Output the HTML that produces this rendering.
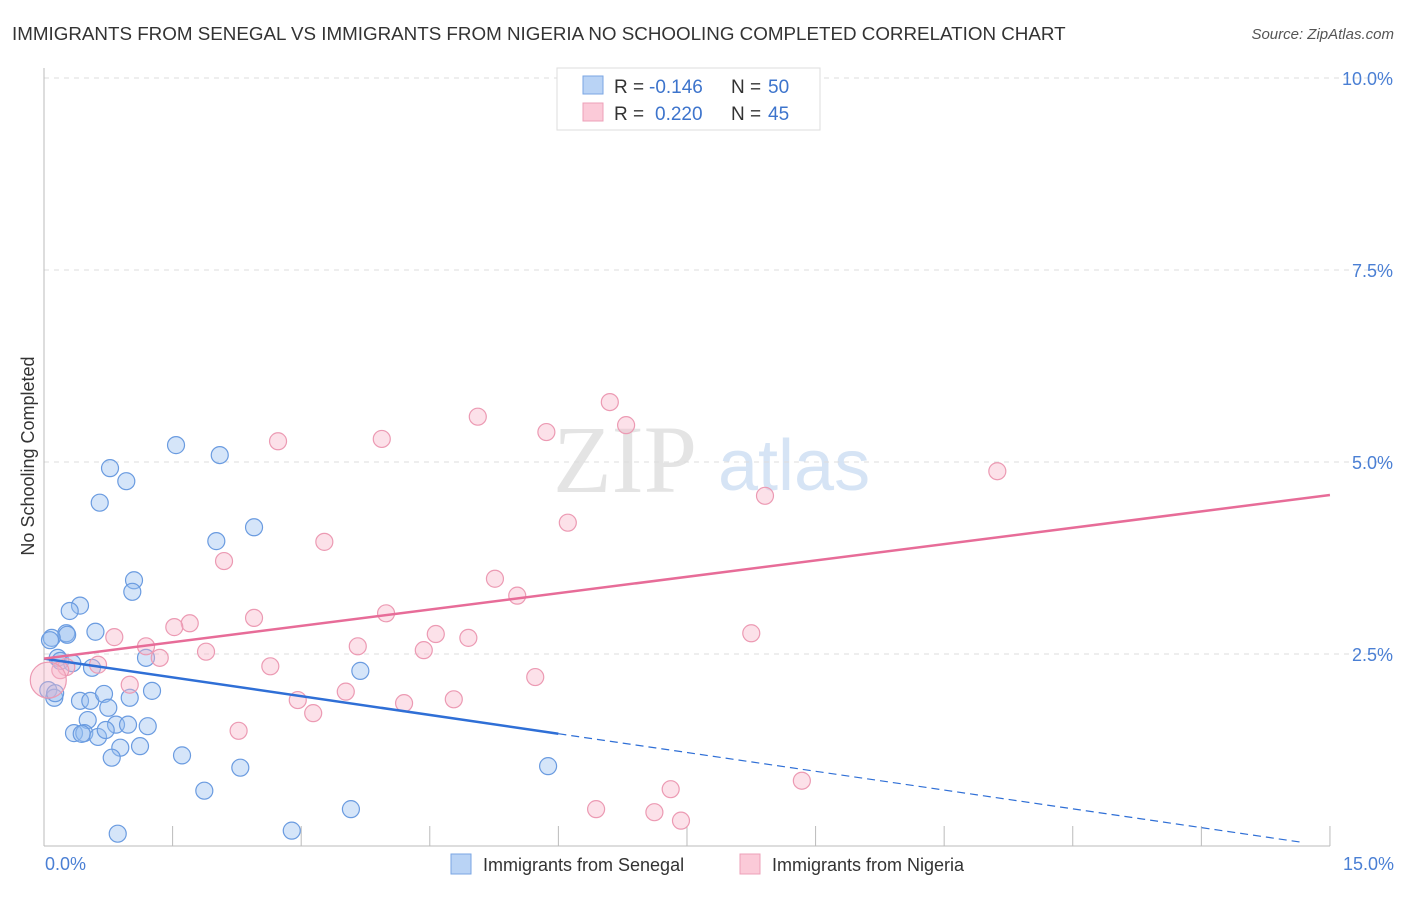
<!DOCTYPE html>
<html><head><meta charset="utf-8"><style>
body{margin:0;background:#fff;font-family:"Liberation Sans",sans-serif}
svg text{font-family:"Liberation Sans",sans-serif}
</style></head><body>
<svg width="1406" height="892">
<text x="12" y="40" font-size="18.8" fill="#333">IMMIGRANTS FROM SENEGAL VS IMMIGRANTS FROM NIGERIA NO SCHOOLING COMPLETED CORRELATION CHART</text>
<text x="1394" y="39" font-size="15" fill="#555" font-style="italic" text-anchor="end">Source: ZipAtlas.com</text>
<text x="553" y="492" font-size="96" fill="#e4e4e4" style="font-family:'Liberation Serif',serif">ZIP</text>
<text x="718" y="490" font-size="72" fill="#d6e4f5">atlas</text>
<g id="grid"></g>
<line x1="44" y1="68" x2="44" y2="846" stroke="#bbb"/>
<line x1="44" y1="846" x2="1330" y2="846" stroke="#bbb"/>
<g id="ticks"></g>
<text x="34" y="456" font-size="18" fill="#333" transform="rotate(-90 34 456)" text-anchor="middle">No Schooling Completed</text>
<text x="45" y="870" font-size="18" fill="#4a7fd4">0.0%</text>
<text x="1394" y="870" font-size="18" fill="#4a7fd4" text-anchor="end">15.0%</text>
<g id="pts"></g>
<g id="lines"></g>
<g>
<rect x="557" y="68" width="263" height="62" fill="#fff" stroke="#ddd"/>
<rect x="583" y="76" width="20" height="18" fill="#b9d3f5" stroke="#7aa6e3"/>
<rect x="583" y="103" width="20" height="18" fill="#fbcad8" stroke="#eea0b8"/>
<text x="614" y="93" font-size="19" fill="#333">R =</text>
<text x="649" y="93" font-size="19" fill="#3d74cc">-0.146</text>
<text x="731" y="93" font-size="19" fill="#333">N =</text>
<text x="768" y="93" font-size="19" fill="#3d74cc">50</text>
<text x="614" y="120" font-size="19" fill="#333">R =</text>
<text x="655" y="120" font-size="19" fill="#3d74cc">0.220</text>
<text x="731" y="120" font-size="19" fill="#333">N =</text>
<text x="768" y="120" font-size="19" fill="#3d74cc">45</text>
</g>
<g>
<rect x="451" y="854" width="20" height="20" fill="#b9d3f5" stroke="#7aa6e3"/>
<text x="483" y="871" font-size="18" fill="#333">Immigrants from Senegal</text>
<rect x="740" y="854" width="20" height="20" fill="#fbcad8" stroke="#eea0b8"/>
<text x="772" y="871" font-size="18" fill="#333">Immigrants from Nigeria</text>
</g>
</svg>
<script>
const yTicks=[2.5,5.0,7.5,10.0];
const xTickVals=[0,1.5,3,4.5,6,7.5,9,10.5,12,13.5,15];
const senegalX=[0.77,0.96,0.65,1.54,2.05,2.45,2.01,1.05,1.03,0.42,0.30,0.26,0.27,0.60,0.09,0.07,0.16,0.19,0.33,0.56,1.19,0.05,0.12,0.13,0.42,0.54,0.70,1.00,1.26,0.75,0.51,0.84,0.98,1.21,0.35,0.47,0.63,0.44,0.72,0.89,1.12,0.79,1.61,2.29,1.87,0.86,2.89,3.58,5.88,3.69];
const senegalY=[4.92,4.75,4.47,5.22,5.09,4.15,3.97,3.46,3.31,3.13,3.06,2.77,2.75,2.79,2.71,2.68,2.45,2.41,2.38,2.32,2.45,2.03,1.93,1.99,1.89,1.89,1.98,1.93,2.02,1.80,1.64,1.58,1.58,1.56,1.47,1.47,1.42,1.46,1.51,1.28,1.30,1.15,1.18,1.02,0.72,0.16,0.20,0.48,1.04,2.28];
const nigeriaX=[7.85,6.60,5.06,6.79,3.94,5.86,2.73,11.12,8.41,6.11,3.27,2.10,5.26,5.52,3.99,2.45,1.70,1.52,0.82,4.57,4.95,3.66,1.19,1.89,1.35,0.63,0.26,2.64,4.43,1.00,3.52,5.73,2.96,4.78,4.20,3.14,2.27,8.25,8.84,7.31,6.44,7.12,7.43,0.19,0.05];
const nigeriaY=[9.73,5.78,5.59,5.48,5.30,5.39,5.27,4.88,4.56,4.21,3.96,3.71,3.48,3.26,3.03,2.97,2.90,2.85,2.72,2.76,2.71,2.60,2.60,2.53,2.45,2.36,2.33,2.34,2.55,2.10,2.01,2.20,1.90,1.91,1.86,1.73,1.50,2.77,0.85,0.74,0.48,0.44,0.33,2.29,2.16];
const senegalTrend=[2.44,-0.163];
const nigeriaTrend=[2.44,0.142];
const X=v=>44+v*85.73, Y=v=>846-v*76.8;
const NS="http://www.w3.org/2000/svg";
function mk(t,a,p){const e=document.createElementNS(NS,t);for(const k in a)e.setAttribute(k,a[k]);p.appendChild(e);return e;}
const g=document.getElementById('grid'),tk=document.getElementById('ticks'),pts=document.getElementById('pts'),ln=document.getElementById('lines');
yTicks.forEach(v=>{
const l=mk('line',{x1:44,x2:1392,y1:Y(v),y2:Y(v),stroke:'#ddd','stroke-dasharray':'5,5'},g);


const t=mk('text',{x:1393,y:Y(v)+7,'font-size':18,fill:'#4a7fd4','text-anchor':'end'},tk);
t.textContent=v.toFixed(1)+'%';


});
mk('line',{x1:44,x2:1392,y1:78,y2:78,stroke:'#ddd','stroke-dasharray':'5,5'},g);
xTickVals.forEach(v=>{
const l=mk('line',{x1:X(v),x2:X(v),y1:826,y2:846,stroke:'#bbb'},tk);


});
senegalX.forEach((x,i)=>{
const c=mk('circle',{cx:X(x),cy:Y(senegalY[i]),r:8.5,fill:'rgba(150,190,240,0.4)',stroke:'#6a9be0','stroke-width':1.2},pts);


});
nigeriaX.forEach((x,i)=>{
const c=mk('circle',{cx:X(x),cy:Y(nigeriaY[i]),r:i==44?18:8.5,fill:'rgba(248,180,200,0.4)',stroke:'#ec9ab3','stroke-width':1.2},pts);


});
const b0=senegalTrend[0],b1=senegalTrend[1],p0=nigeriaTrend[0],p1=nigeriaTrend[1];
let e=mk('line',{x1:X(0),y1:Y(b0),x2:X(6),y2:Y(b0+b1*6),stroke:'#2f6fd6','stroke-width':2.5},ln);


e=mk('line',{x1:X(6),y1:Y(b0+b1*6),x2:X(14.65),y2:Y(b0+b1*14.65),stroke:'#2f6fd6','stroke-width':1.2,'stroke-dasharray':'8,5'},ln);


e=mk('line',{x1:X(0),y1:Y(p0),x2:X(15),y2:Y(p0+p1*15),stroke:'#e76c98','stroke-width':2.5},ln);


</script>
</body></html>
